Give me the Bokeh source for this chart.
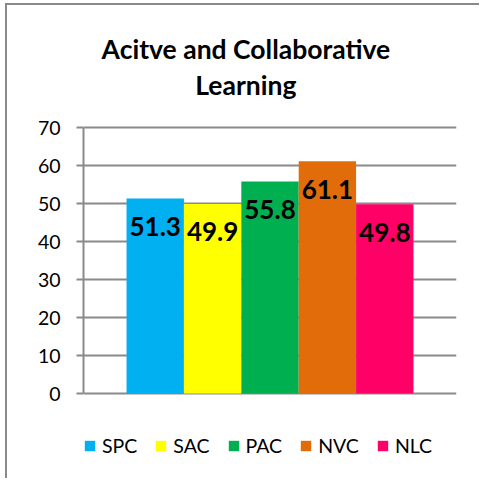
from bokeh.plotting import figure
from bokeh.models import ColumnDataSource, FactorRange, Label, FixedTicker, Legend, LegendItem, Range1d
from bokeh.embed import file_html
from bokeh.resources import INLINE
from bokeh.core.properties import value

title_text = "Acitve and Collaborative\nLearning"
categories = ["SPC", "SAC", "PAC", "NVC", "NLC"]
values = [51.3, 49.9, 55.8, 61.1, 49.8]
colors = ["#00B0F0", "#FFFF00", "#00B050", "#E36C0A", "#FF0066"]
y_ticks = [0, 10, 20, 30, 40, 50, 60, 70]

labels = [f"{v:.1f}" for v in values]
source = ColumnDataSource(dict(cat=categories, val=values, color=colors, label=labels))

GRAY = "#8A8A8A"
FONT = "Lato"

# layout (canvas pixels): value 0 -> 388 px from canvas top, 70 -> 122 px; canvas height 475
CANVAS_H = 475
PX_PER_UNIT = (388 - 122) / 70.0
Y_TOP = 70 + 122 / PX_PER_UNIT
Y_BOT = -(CANVAS_H - 388) / PX_PER_UNIT

p = figure(
    width=474, height=CANVAS_H,
    x_range=FactorRange(factors=categories, range_padding=0.75, range_padding_units="absolute"),
    y_range=Range1d(Y_BOT, Y_TOP),
    x_axis_location=None,
    output_backend="svg", toolbar_location=None,
    min_border_left=76, min_border_right=25, min_border_top=0, min_border_bottom=0,
    styles={"margin-left": "5px", "margin-top": "3px",
            "border-left": "2px solid " + GRAY, "border-top": "2px solid " + GRAY},
)
p.outline_line_color = None

r = p.vbar(x="cat", top="val", width=1.0, fill_color="color", line_color=None, source=source)

p.text(x="cat", y="val", text="label", source=source,
       text_font=value(FONT), text_font_style="bold", text_font_size="26px",
       text_align="center", text_baseline="middle", y_offset=28, text_color="black")

p.yaxis.bounds = (y_ticks[0], y_ticks[-1])
p.yaxis.ticker = FixedTicker(ticks=y_ticks)
p.yaxis.major_tick_out = 7
p.yaxis.major_tick_in = 0
p.yaxis.minor_tick_line_color = None
p.yaxis.axis_line_color = GRAY
p.yaxis.axis_line_width = 2
p.yaxis.major_tick_line_color = GRAY
p.yaxis.major_tick_line_width = 2
p.yaxis.major_label_text_font = FONT
p.yaxis.major_label_text_font_size = "19.5px"
p.yaxis.major_label_text_color = "black"
p.yaxis.major_label_standoff = 16

p.xgrid.grid_line_color = None
p.ygrid.grid_line_color = GRAY
p.ygrid.grid_line_width = 2

# title, centred about 2.08 bar-widths right of the first bar's left edge
t = Label(x=2.08, y=70 + (122 - 27) / PX_PER_UNIT, text=title_text,
          text_font=FONT, text_font_style="bold", text_font_size="26.5px",
          text_color="black", text_align="center", text_baseline="top",
          text_line_height=1.15)
p.add_layout(t)

items = [LegendItem(label=c, renderers=[r], index=i) for i, c in enumerate(categories)]
lg = Legend(items=items, orientation="horizontal", location=(0, 23),
            padding=0, margin=0, spacing=17, glyph_width=13, glyph_height=13,
            label_standoff=6, label_height=20, label_text_font=FONT,
            label_text_font_size="19.5px", label_text_color="black",
            border_line_color=None, background_fill_alpha=0)
p.add_layout(lg)

open("out.html", "w").write(file_html(p, INLINE))
